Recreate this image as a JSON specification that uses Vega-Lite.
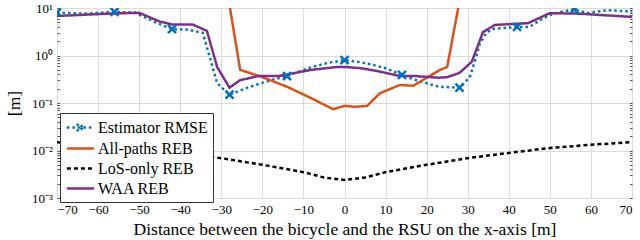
{
  "$schema": "https://vega.github.io/schema/vega-lite/v6.json",
  "width": 575,
  "height": 190,
  "autosize": "none",
  "padding": {"left": 57, "top": 8, "right": 8, "bottom": 42},
  "config": {
    "font": "'Liberation Serif', serif",
    "view": {"stroke": "#333", "strokeWidth": 1},
    "axis": {
      "labelFont": "'Liberation Serif', serif",
      "titleFont": "'Liberation Serif', serif",
      "labelFontSize": 13,
      "titleFontSize": 17.5,
      "titleFontWeight": "normal",
      "labelColor": "#000",
      "titleColor": "#000",
      "gridColor": "#dcdcdc",
      "gridWidth": 1,
      "domain": false,
      "tickColor": "#555"
    },
    "legend": {
      "labelFont": "'Liberation Serif', serif",
      "labelFontSize": 16,
      "labelColor": "#000"
    }
  },
  "resolve": {"axis": {"y": "independent"}},
  "datasets": {
    "lines": [
      {"series": "Estimator RMSE", "x": -70, "y": 8.0},
      {"series": "Estimator RMSE", "x": -63, "y": 7.6},
      {"series": "Estimator RMSE", "x": -56, "y": 8.3},
      {"series": "Estimator RMSE", "x": -51, "y": 8.0},
      {"series": "Estimator RMSE", "x": -46, "y": 5.0},
      {"series": "Estimator RMSE", "x": -42, "y": 3.6},
      {"series": "Estimator RMSE", "x": -38, "y": 3.5},
      {"series": "Estimator RMSE", "x": -34.5, "y": 3.0},
      {"series": "Estimator RMSE", "x": -32.5, "y": 0.75},
      {"series": "Estimator RMSE", "x": -31, "y": 0.26},
      {"series": "Estimator RMSE", "x": -28, "y": 0.15},
      {"series": "Estimator RMSE", "x": -23, "y": 0.22},
      {"series": "Estimator RMSE", "x": -18, "y": 0.30},
      {"series": "Estimator RMSE", "x": -14, "y": 0.37},
      {"series": "Estimator RMSE", "x": -8, "y": 0.57},
      {"series": "Estimator RMSE", "x": -4, "y": 0.70},
      {"series": "Estimator RMSE", "x": 0, "y": 0.80},
      {"series": "Estimator RMSE", "x": 4, "y": 0.72},
      {"series": "Estimator RMSE", "x": 7, "y": 0.63},
      {"series": "Estimator RMSE", "x": 10, "y": 0.54},
      {"series": "Estimator RMSE", "x": 14, "y": 0.39},
      {"series": "Estimator RMSE", "x": 18, "y": 0.29},
      {"series": "Estimator RMSE", "x": 23, "y": 0.22},
      {"series": "Estimator RMSE", "x": 28, "y": 0.21},
      {"series": "Estimator RMSE", "x": 30.5, "y": 0.35},
      {"series": "Estimator RMSE", "x": 32, "y": 0.9},
      {"series": "Estimator RMSE", "x": 33, "y": 1.8},
      {"series": "Estimator RMSE", "x": 34.5, "y": 3.0},
      {"series": "Estimator RMSE", "x": 36, "y": 3.6},
      {"series": "Estimator RMSE", "x": 42, "y": 4.0},
      {"series": "Estimator RMSE", "x": 45, "y": 4.0},
      {"series": "Estimator RMSE", "x": 48, "y": 5.8},
      {"series": "Estimator RMSE", "x": 50, "y": 7.1},
      {"series": "Estimator RMSE", "x": 52.5, "y": 8.2},
      {"series": "Estimator RMSE", "x": 56, "y": 9.4},
      {"series": "Estimator RMSE", "x": 59, "y": 7.8},
      {"series": "Estimator RMSE", "x": 64, "y": 9.0},
      {"series": "Estimator RMSE", "x": 70, "y": 8.4},

      {"series": "All-paths REB", "x": -28, "y": 11.5},
      {"series": "All-paths REB", "x": -25.4, "y": 0.5},
      {"series": "All-paths REB", "x": -20, "y": 0.35},
      {"series": "All-paths REB", "x": -14, "y": 0.22},
      {"series": "All-paths REB", "x": -8.4, "y": 0.13},
      {"series": "All-paths REB", "x": -2.8, "y": 0.074},
      {"series": "All-paths REB", "x": 0, "y": 0.087},
      {"series": "All-paths REB", "x": 2.6, "y": 0.083},
      {"series": "All-paths REB", "x": 5.5, "y": 0.087},
      {"series": "All-paths REB", "x": 8.6, "y": 0.16},
      {"series": "All-paths REB", "x": 13.5, "y": 0.24},
      {"series": "All-paths REB", "x": 16.7, "y": 0.23},
      {"series": "All-paths REB", "x": 23.3, "y": 0.5},
      {"series": "All-paths REB", "x": 25, "y": 0.57},
      {"series": "All-paths REB", "x": 28, "y": 14},

      {"series": "LoS-only REB", "x": -70, "y": 0.015},
      {"series": "LoS-only REB", "x": -60, "y": 0.013},
      {"series": "LoS-only REB", "x": -50, "y": 0.011},
      {"series": "LoS-only REB", "x": -40, "y": 0.0089},
      {"series": "LoS-only REB", "x": -30, "y": 0.0069},
      {"series": "LoS-only REB", "x": -20, "y": 0.0050},
      {"series": "LoS-only REB", "x": -10, "y": 0.0035},
      {"series": "LoS-only REB", "x": -5, "y": 0.0027},
      {"series": "LoS-only REB", "x": 0, "y": 0.0024},
      {"series": "LoS-only REB", "x": 5, "y": 0.0027},
      {"series": "LoS-only REB", "x": 10, "y": 0.0035},
      {"series": "LoS-only REB", "x": 20, "y": 0.0050},
      {"series": "LoS-only REB", "x": 30, "y": 0.0069},
      {"series": "LoS-only REB", "x": 40, "y": 0.0089},
      {"series": "LoS-only REB", "x": 50, "y": 0.0113},
      {"series": "LoS-only REB", "x": 60, "y": 0.0132},
      {"series": "LoS-only REB", "x": 70, "y": 0.015},

      {"series": "WAA REB", "x": -70, "y": 6.8},
      {"series": "WAA REB", "x": -56, "y": 7.7},
      {"series": "WAA REB", "x": -50, "y": 7.9},
      {"series": "WAA REB", "x": -45, "y": 5.2},
      {"series": "WAA REB", "x": -42, "y": 4.5},
      {"series": "WAA REB", "x": -37, "y": 4.5},
      {"series": "WAA REB", "x": -33.5, "y": 3.3},
      {"series": "WAA REB", "x": -31, "y": 0.57},
      {"series": "WAA REB", "x": -28, "y": 0.21},
      {"series": "WAA REB", "x": -25.5, "y": 0.30},
      {"series": "WAA REB", "x": -21, "y": 0.37},
      {"series": "WAA REB", "x": -16, "y": 0.37},
      {"series": "WAA REB", "x": -8, "y": 0.50},
      {"series": "WAA REB", "x": -2, "y": 0.57},
      {"series": "WAA REB", "x": 0, "y": 0.575},
      {"series": "WAA REB", "x": 4, "y": 0.54},
      {"series": "WAA REB", "x": 8, "y": 0.47},
      {"series": "WAA REB", "x": 13.5, "y": 0.37},
      {"series": "WAA REB", "x": 17, "y": 0.37},
      {"series": "WAA REB", "x": 23, "y": 0.34},
      {"series": "WAA REB", "x": 25, "y": 0.35},
      {"series": "WAA REB", "x": 28, "y": 0.43},
      {"series": "WAA REB", "x": 31, "y": 0.74},
      {"series": "WAA REB", "x": 33.7, "y": 3.1},
      {"series": "WAA REB", "x": 36.6, "y": 4.4},
      {"series": "WAA REB", "x": 44.7, "y": 4.8},
      {"series": "WAA REB", "x": 50, "y": 7.8},
      {"series": "WAA REB", "x": 57, "y": 7.6},
      {"series": "WAA REB", "x": 70, "y": 6.5}
    ],
    "markers": [
      {"x": -70, "y": 8.0},
      {"x": -56, "y": 8.3},
      {"x": -42, "y": 3.6},
      {"x": -28, "y": 0.15},
      {"x": -14, "y": 0.37},
      {"x": 0, "y": 0.80},
      {"x": 14, "y": 0.39},
      {"x": 28, "y": 0.21},
      {"x": 42, "y": 4.0},
      {"x": 56, "y": 9.4}
    ]
  },
  "layer": [
    {
      "data": {"name": "lines"},
      "mark": {"type": "line", "strokeWidth": 2.5, "clip": true},
      "encoding": {
        "x": {
          "field": "x", "type": "quantitative",
          "scale": {"domain": [-70, 70], "nice": false, "zero": false},
          "axis": {
            "values": [-70, -60, -50, -40, -30, -20, -10, 0, 10, 20, 30, 40, 50, 60, 70],
            "title": "Distance between the bicycle and the RSU on the x-axis [m]",
            "ticks": false,
            "labelPadding": 5,
            "titlePadding": 4
          }
        },
        "y": {
          "field": "y", "type": "quantitative",
          "scale": {"type": "log", "domain": [0.001, 10], "nice": false},
          "axis": {
            "values": [0.001, 0.002, 0.003, 0.004, 0.005, 0.006, 0.007, 0.008, 0.009, 0.01, 0.02, 0.03, 0.04, 0.05, 0.06, 0.07, 0.08, 0.09, 0.1, 0.2, 0.3, 0.4, 0.5, 0.6, 0.7, 0.8, 0.9, 1, 2, 3, 4, 5, 6, 7, 8, 9, 10],
            "labelExpr": "abs(log(datum.value)/LN10 - round(log(datum.value)/LN10)) > 0.01 ? '' : datum.value >= 5 ? '10¹' : datum.value >= 0.5 ? '10⁰' : datum.value >= 0.05 ? '10⁻¹' : datum.value >= 0.005 ? '10⁻²' : '10⁻³'",
            "gridOpacity": {"condition": {"test": "abs(log(datum.value)/LN10 - round(log(datum.value)/LN10)) > 0.01", "value": 0}, "value": 1},
            "tickSize": -2.5,
            "title": "[m]",
            "labelPadding": 7,
            "titlePadding": 8
          }
        },
        "color": {
          "field": "series", "type": "nominal",
          "scale": {
            "domain": ["Estimator RMSE", "All-paths REB", "LoS-only REB", "WAA REB"],
            "range": ["#0072BD", "#D95319", "#000000", "#7E2F8E"]
          },
          "legend": {
            "title": null,
            "orient": "none",
            "legendX": 3,
            "legendY": 105,
            "padding": 5,
            "strokeColor": "#333",
            "fillColor": "white",
            "symbolSize": 256,
            "symbolOffset": 6,
            "symbolStrokeWidth": 2.5,
            "rowPadding": 2,
            "labelOffset": 8,
            "encode": {
              "symbols": {
                "update": {
                  "shape": {"signal": "datum.value === 'Estimator RMSE' ? 'M-1.7,0L1.7,0M-0.45,-0.45L0.45,0.45M-0.45,0.45L0.45,-0.45' : 'M-1.7,0L1.7,0'"}
                }
              }
            }
          }
        },
        "strokeDash": {
          "field": "series", "type": "nominal",
          "scale": {
            "domain": ["Estimator RMSE", "All-paths REB", "LoS-only REB", "WAA REB"],
            "range": [[2.5, 3], [1, 0], [4, 3], [1, 0]]
          },
          "legend": {
            "title": null,
            "orient": "none",
            "legendX": 3,
            "legendY": 105,
            "padding": 5,
            "strokeColor": "#333",
            "fillColor": "white",
            "symbolSize": 256,
            "symbolOffset": 6,
            "symbolStrokeWidth": 2.5,
            "rowPadding": 2,
            "labelOffset": 8,
            "encode": {
              "symbols": {
                "update": {
                  "shape": {"signal": "datum.value === 'Estimator RMSE' ? 'M-1.7,0L1.7,0M-0.45,-0.45L0.45,0.45M-0.45,0.45L0.45,-0.45' : 'M-1.7,0L1.7,0'"}
                }
              }
            }
          }
        }
      }
    },
    {
      "data": {"name": "markers"},
      "mark": {"type": "point", "shape": "M-1,-1L1,1M-1,1L1,-1", "size": 64, "strokeWidth": 2.5, "color": "#0072BD", "filled": false, "opacity": 1, "clip": true},
      "encoding": {
        "x": {"field": "x", "type": "quantitative"},
        "y": {
          "field": "y", "type": "quantitative",
          "axis": {
            "orient": "right",
            "values": [0.001, 0.002, 0.003, 0.004, 0.005, 0.006, 0.007, 0.008, 0.009, 0.01, 0.02, 0.03, 0.04, 0.05, 0.06, 0.07, 0.08, 0.09, 0.1, 0.2, 0.3, 0.4, 0.5, 0.6, 0.7, 0.8, 0.9, 1, 2, 3, 4, 5, 6, 7, 8, 9, 10],
            "labels": false,
            "grid": false,
            "tickSize": -2.5,
            "title": null
          }
        }
      }
    }
  ]
}
